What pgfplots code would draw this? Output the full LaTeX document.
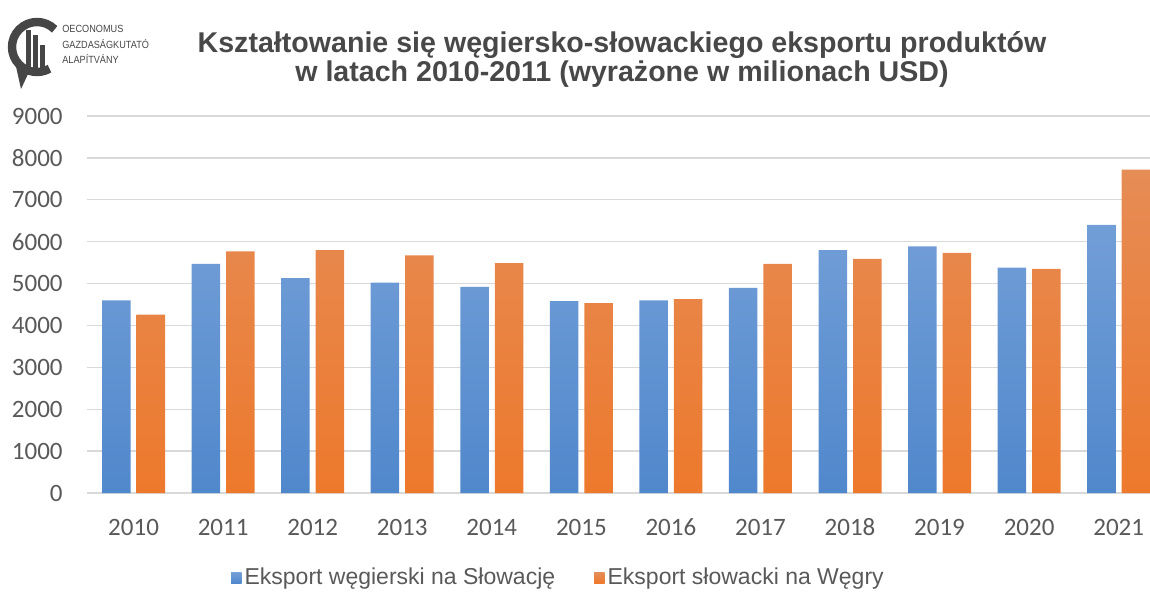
\documentclass[border=0pt]{standalone}
\usepackage{pgfplots}
\pgfplotsset{compat=1.18}
\usepackage{fontspec}
\setmainfont{Liberation Sans}
\newfontfamily\calibri{Carlito}

\definecolor{hublue}{RGB}{91,149,213}
\definecolor{hubluetop}{RGB}{114,158,215}
\definecolor{hubluebot}{RGB}{80,136,204}
\definecolor{skorange}{RGB}{236,125,49}
\definecolor{skorangetop}{RGB}{230,140,86}
\definecolor{skorangebot}{RGB}{237,121,44}
\definecolor{tickgray}{RGB}{89,89,89}
\definecolor{titlegray}{RGB}{72,72,72}
\definecolor{gridgray}{RGB}{217,217,217}
\definecolor{logogray}{RGB}{70,70,70}

\begin{document}
\begin{tikzpicture}
\path[use as bounding box] (0,0) rectangle (575pt,298pt);

% logo (pixel coordinates, y down)
\begin{scope}[shift={(0,298pt)}, x=0.5pt, y=-0.5pt]
  \draw[logogray, line width=4.2pt] (37,47) ++(-45:25) arc[start angle=-45, end angle=-300, radius=25];
  \fill[logogray] (15,62) -- (29,72) -- (21,89) -- cycle;
  \fill[logogray] (26,30) rectangle (31,70);
  \fill[logogray] (33,35) rectangle (38,70);
  \fill[logogray] (40,45) rectangle (45,70);
  \begin{scope}[every node/.style={anchor=west, inner sep=0pt, text=logogray,
      font=\fontsize{5.2}{6}\selectfont, xscale=0.88}]
    \node at (62,29) {OECONOMUS};
    \node at (62,44) {GAZDASÁGKUTATÓ};
    \node at (62,59) {ALAPÍTVÁNY};
  \end{scope}
\end{scope}

% title
\node[anchor=base, font=\bfseries\fontsize{14.3}{17}\selectfont, text=titlegray]
  at (311pt,272pt) {Kształtowanie się węgiersko-słowackiego eksportu produktów};
\node[anchor=base, font=\bfseries\fontsize{14.3}{17}\selectfont, text=titlegray]
  at (311pt,257.5pt) {w latach 2010-2011 (wyrażone w milionach USD)};

\begin{axis}[
    at={(43.5pt,51.5pt)}, anchor=south west,
    scale only axis,
    width=531.5pt, height=188.5pt,
    ybar=3pt,
    bar width=14.25pt,
    xmin=-0.52, xmax=11.35,
    ymin=0, ymax=9000,
    xtick={0,...,11},
    xticklabels={2010,2011,2012,2013,2014,2015,2016,2017,2018,2019,2020,2021},
    ytick={0,1000,...,9000},
    ymajorgrids=true,
    major grid style={draw=gridgray, line width=0.7pt},
    axis line style={draw=none},
    major tick length=0pt,
    tick label style={font=\calibri\fontsize{12.5}{14}\selectfont, text=tickgray},
    /pgf/number format/assume math mode=true,
    /pgf/number format/1000 sep={},
    yticklabel style={inner sep=0pt, xshift=-12pt},
    xticklabel style={inner sep=0pt, anchor=base, yshift=-21pt},
    legend columns=2,
    legend style={at={(0.444,-0.2255)}, anchor=center, draw=none, fill=none,
        font=\fontsize{11.5}{13}\selectfont, text=tickgray,
        nodes={inner sep=1.5pt},
        /tikz/every even column/.append style={column sep=18pt}},
    legend image code/.code={\fill[#1] (0pt,-2.6pt) rectangle (5.2pt,2.6pt);},
]

\addplot[top color=hubluetop, bottom color=hubluebot, draw=none] coordinates {
    (0,4600) (1,5470) (2,5130) (3,5020) (4,4920) (5,4580)
    (6,4600) (7,4900) (8,5800) (9,5890) (10,5380) (11,6400)
};

\addplot[top color=skorangetop, bottom color=skorangebot, draw=none] coordinates {
    (0,4260) (1,5770) (2,5800) (3,5670) (4,5490) (5,4530)
    (6,4630) (7,5470) (8,5590) (9,5730) (10,5350) (11,7720)
};

\legend{Eksport węgierski na Słowację, Eksport słowacki na Węgry}
\end{axis}
\end{tikzpicture}
\end{document}
